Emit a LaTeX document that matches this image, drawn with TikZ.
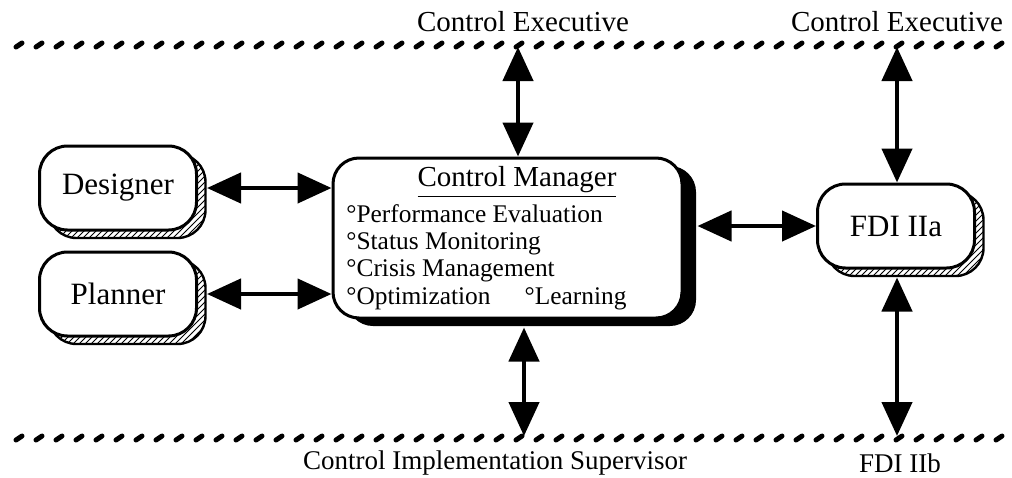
\documentclass[tikz,border=0pt]{standalone}
\usepackage{fontspec}
\setmainfont{Liberation Serif}
\usetikzlibrary{arrows.meta,shadows,patterns}

\tikzset{
  >={Triangle[length=17pt,width=15pt]},
  conn/.style={<->, line width=2.2pt},
  hatchbox/.style={draw, line width=1.5pt, rounded corners=14pt, fill=white,
    minimum width=78.5pt, minimum height=42pt,
    font=\fontsize{15.5}{17}\selectfont,
    drop shadow={shadow xshift=4.5pt, shadow yshift=-4pt, opacity=1,
      draw=black, line width=1.2pt, pattern=north east lines}},
  mgrbox/.style={draw, line width=1.5pt, rounded corners=13pt, fill=white,
    minimum width=174.5pt, minimum height=80pt,
    drop shadow={shadow xshift=7pt, shadow yshift=-4pt, opacity=1, fill=black}},
  lbl/.style={font=\fontsize{14.5}{16}\selectfont},
  dashmark/.style={line width=2.5pt, line cap=round}
}

\begin{document}
\begin{tikzpicture}[x=0.5pt, y=-0.5pt]
  \useasboundingbox (0,0) rectangle (1012,477);

  % boundaries
  \foreach \x in {15,35,...,1005} {
    \draw[dashmark] (\x+1,47) -- (\x+7,43);
    \draw[dashmark] (\x+1,440) -- (\x+7,436);
  }

  % labels on the boundaries
  \node[lbl] (ce1) at (523,22) {Control Executive};
  \node[lbl] (ce2) at (897,22) {Control Executive};
  \node[font=\fontsize{13.5}{15}\selectfont] (cis) at (495,463) {Control Implementation Supervisor};
  \node[font=\fontsize{13.5}{15}\selectfont] (fdib) at (900,463) {FDI IIb};
  \coordinate (top1) at (518,47);
  \coordinate (top2) at (897,47);
  \coordinate (bot1) at (524,436);
  \coordinate (bot2) at (897,436);

  % boxes
  \node[hatchbox] (designer) at (118,188) {Designer};
  \node[hatchbox] (planner) at (118,294) {Planner};
  \node[hatchbox] (fdia) at (896,226) {FDI IIa};
  \node[mgrbox] (manager) at (507.5,238) {};
  \node[font=\fontsize{14.5}{16}\selectfont] (mtitle) at (517,182) {\underline{Control Manager}};
  \node[font=\fontsize{12.7}{13.6}\selectfont, align=left, anchor=west, inner sep=0pt] (mlist) at (346,257)
    {°Performance Evaluation\\°Status Monitoring\\°Crisis Management\\°Optimization\hspace{17pt}°Learning};

  % connections
  \draw[conn] ([xshift=4.5pt]designer.east) -- (designer.east -| manager.west);
  \draw[conn] ([xshift=4.5pt]planner.east) -- (planner.east -| manager.west);
  \draw[conn] ([xshift=7pt]manager.east |- fdia.west) -- (fdia.west);
  \draw[conn] (top1) -- (top1 |- manager.north);
  \draw[conn] ([yshift=-4pt]bot1 |- manager.south) -- (bot1);
  \draw[conn] (top2) -- (fdia.north -| top2);
  \draw[conn] ([yshift=-4pt]fdia.south -| bot2) -- (bot2);
\end{tikzpicture}
\end{document}
